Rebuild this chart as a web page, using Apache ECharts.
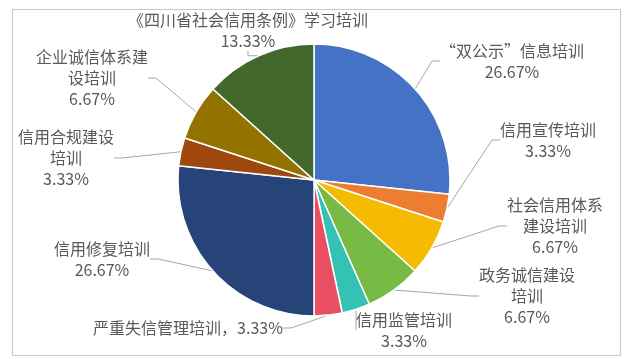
<!DOCTYPE html>
<html>
<head>
<meta charset="utf-8">
<script src="https://cdn.jsdelivr.net/npm/echarts@6/dist/echarts.min.js"></script>
<style>
html,body{margin:0;padding:0;background:#fff;}
#chart{width:627px;height:359px;}
</style>
</head>
<body>
<div id="chart"></div>
<script>
// categories (training topics) and counts
var categories = ['“双公示”信息培训', '信用宣传培训', '社会信用体系建设培训', '政务诚信建设培训', '信用监管培训', '严重失信管理培训', '信用修复培训', '信用合规建设培训', '企业诚信体系建设培训', '《四川省社会信用条例》学习培训'];
var values = [8, 1, 2, 2, 1, 1, 8, 1, 2, 4];
// label text as displayed (with line wraps) and separator before the percentage
var labelTexts = ['“双公示”信息培训', '信用宣传培训', '社会信用体系\n建设培训', '政务诚信建设\n培训', '信用监管培训', '严重失信管理培训', '信用修复培训', '信用合规建设\n培训', '企业诚信体系建\n设培训', '《四川省社会信用条例》学习培训'];
var labelSeparators = ['\n', '\n', '\n', '\n', '\n', '，', '\n', '\n', '\n', '\n'];

var colors = ['#4472C4', '#ED7D31', '#F4BB00', '#77BB44', '#33C2B4', '#E84E64', '#264478', '#9E480E', '#937200', '#43682B'];
var labelPos = [[512, 61], [548, 140], [555, 226], [527, 296], [404, 330], [188, 328], [102, 259], [66, 158], [92, 78], [248, 30]];

var chart = echarts.init(document.getElementById('chart'), null, {renderer: 'canvas'});
var data = categories.map(function (c, i) {
  return {name: c, value: values[i], itemStyle: {color: colors[i]}};
});
chart.setOption({
  animation: false,
  graphic: [{
    type: 'rect', left: 10, top: 7,
    shape: {x: 0, y: 0, width: 608, height: 346},
    style: {fill: 'none', stroke: '#C9C9C9', lineWidth: 1.2},
    silent: true
  }],
  series: [{
    type: 'pie',
    center: [314, 180],
    radius: 136,
    startAngle: 90,
    clockwise: true,
    avoidLabelOverlap: false,
    data: data,
    itemStyle: {borderColor: '#fff', borderWidth: 1.5},
    label: {
      show: true,
      position: 'outside',
      color: '#595959',
      fontSize: 16,
      lineHeight: 21,
      fontFamily: '"Noto Sans CJK SC", "Noto Sans", sans-serif',
      align: 'center',
      formatter: function (p) {
        return labelTexts[p.dataIndex] + labelSeparators[p.dataIndex] + p.percent.toFixed(2) + '%';
      }
    },
    labelLine: {
      show: true,
      length: 10,
      length2: 8,
      lineStyle: {color: '#A6A6A6', width: 1}
    },
    labelLayout: function (params) {
      var p = labelPos[params.dataIndex];
      return {x: p[0], y: p[1], align: 'center', verticalAlign: 'middle'};
    },
    emphasis: {disabled: true}
  }]
});
</script>
</body>
</html>
